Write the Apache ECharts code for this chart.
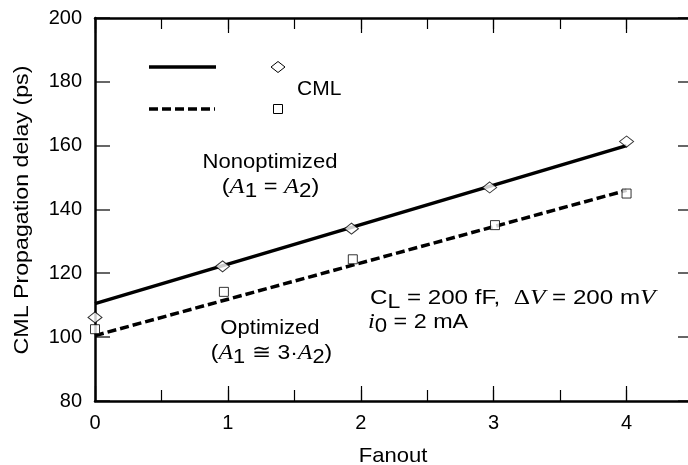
<!DOCTYPE html>
<html>
<head>
<meta charset="utf-8">
<script src="https://cdn.jsdelivr.net/npm/echarts@6/dist/echarts.min.js"></script>
<style>
  html, body { margin: 0; padding: 0; background: #fff; }
  #chart { width: 688px; height: 465px; }
</style>
</head>
<body>
<div id="chart"></div>
<script>
// ---- data ----
const xTicks = [0, 1, 2, 3, 4];
const yTicks = [80, 100, 120, 140, 160, 180, 200];
const nonoptX = [0, 0.96, 1.93, 2.97, 4.0];
const nonoptY = [106.2, 122.2, 134.0, 146.9, 161.3];
const optX = [0, 0.97, 1.94, 3.01, 4.0];
const optY = [102.5, 114.2, 124.4, 135.1, 145.0];
const fitX = [0, 4];
const nonoptFitY = [110.5, 160.0];
const optFitY = [100.5, 146.0];
const xName = 'Fanout';
const yName = 'CML Propagation delay (ps)';
const legendLabel = 'CML';

const SANS = '"Liberation Sans", Arial, Helvetica, sans-serif';
const SERIF = '"Liberation Serif", "DejaVu Serif", serif';
const X_MIN = 0, X_MAX = 4.5;

const pairs = (xs, ys) => xs.map((x, i) => [x, ys[i]]);

const chart = echarts.init(document.getElementById('chart'), null, { renderer: 'canvas' });

const axisLine = { show: true, onZero: false, lineStyle: { color: '#000', width: 2.5 } };
const noLine = { show: false, onZero: false };
const baseX = { type: 'value', min: X_MIN, max: X_MAX, splitLine: { show: false } };
const baseY = { type: 'value', min: 80, max: 200, interval: 20, splitLine: { show: false } };
const tickMajor = () => ({ show: true, inside: true, length: 15, lineStyle: { color: '#000', width: 1.2 } });
const tickMinor = () => ({ show: true, inside: true, length: 11, lineStyle: { color: '#000', width: 1.2 } });

const richBase = {
  s: { fontFamily: SANS, fontSize: 21, lineHeight: 28, verticalAlign: 'middle', fill: '#000' },
  a: { fontFamily: SERIF, fontStyle: 'italic', fontSize: 22, lineHeight: 28, verticalAlign: 'middle', fill: '#000' },
  g: { fontFamily: SERIF, fontSize: 22, lineHeight: 28, verticalAlign: 'middle', fill: '#000' },
  b: { fontFamily: SANS, fontSize: 20, lineHeight: 18, verticalAlign: 'bottom', fill: '#000' }
};

function richText(x, y, text, align, sx) {
  return {
    type: 'text', x: x, y: y, z: 100, scaleX: sx || 1,
    style: { text: text, rich: richBase, align: align, verticalAlign: 'top', fill: '#000' }
  };
}

const graphics = [
  // legend samples
  { type: 'line', z: 100, shape: { x1: 149, y1: 67, x2: 216, y2: 67 }, style: { stroke: '#000', lineWidth: 3.5 } },
  { type: 'line', z: 100, shape: { x1: 149, y1: 109, x2: 215, y2: 109 }, style: { stroke: '#000', lineWidth: 3.5, lineDash: [9, 4] } },
  { type: 'polygon', z: 100, shape: { points: [[278, 61.5], [285, 67], [278, 72.5], [271, 67]] }, style: { fill: '#fff', stroke: '#000', lineWidth: 1 } },
  { type: 'rect', z: 100, shape: { x: 273.5, y: 104.5, width: 9, height: 9 }, style: { fill: '#fff', stroke: '#000', lineWidth: 1 } },
  { type: 'text', z: 100, x: 297, y: 89, style: { text: legendLabel, fontFamily: SANS, fontSize: 21, fill: '#000', align: 'left', verticalAlign: 'middle' } },
  // annotations
  { type: 'text', z: 100, x: 270, y: 162, scaleX: 1.05, style: { text: 'Nonoptimized', fontFamily: SANS, fontSize: 21, fill: '#000', align: 'center', verticalAlign: 'middle' } },
  richText(270.5, 173, '{s|(}{a|A}{b|1}{s| = }{a|A}{b|2}{s|)}', 'center', 1.12),
  { type: 'text', z: 100, x: 270, y: 328, scaleX: 1.05, style: { text: 'Optimized', fontFamily: SANS, fontSize: 21, fill: '#000', align: 'center', verticalAlign: 'middle' } },
  richText(271.5, 339, '{s|(}{a|A}{b|1}{s| \u2245 3\u00B7}{a|A}{b|2}{s|)}', 'center', 1.09),
  richText(370, 284, '{s|C}{b|L}{s| = 200 fF,  }{g|\u0394}{a|V}{s| = 200 m}{a|V}', 'left', 1.15),
  richText(368, 308, '{a|i}{b|0}{s| = 2 mA}', 'left', 1.11),
  // axis names
  { type: 'text', z: 100, x: 393, y: 456, scaleX: 1.05, style: { text: xName, fontFamily: SANS, fontSize: 21, fill: '#000', align: 'center', verticalAlign: 'middle' } },
  { type: 'text', z: 100, x: 22, y: 210, rotation: Math.PI / 2, scaleX: 1.16, style: { text: yName, fontFamily: SANS, fontSize: 20, fill: '#000', align: 'center', verticalAlign: 'middle' } }
];

const option = {
  animation: false,
  backgroundColor: '#fff',
  grid: { left: 95, top: 18, right: -5, bottom: 64, containLabel: false, outerBoundsMode: 'none' },
  xAxis: [
    Object.assign({}, baseX, {
      position: 'bottom', interval: 1, axisLine: axisLine, axisTick: tickMajor(),
      axisLabel: {
        show: true, margin: 12, color: '#000', fontFamily: SANS, fontSize: 20,
        formatter: v => (xTicks.indexOf(v) >= 0 ? String(v) : '')
      }
    }),
    Object.assign({}, baseX, {
      position: 'bottom', interval: 0.5, axisLine: noLine, axisTick: tickMinor(), axisLabel: { show: false }
    }),
    Object.assign({}, baseX, {
      position: 'top', interval: 1, axisLine: axisLine, axisTick: tickMajor(), axisLabel: { show: false }
    }),
    Object.assign({}, baseX, {
      position: 'top', interval: 0.5, axisLine: noLine, axisTick: tickMinor(), axisLabel: { show: false }
    })
  ],
  yAxis: [
    Object.assign({}, baseY, {
      position: 'left', axisLine: axisLine, axisTick: { show: false },
      axisLabel: {
        show: true, margin: 13, color: '#000', fontFamily: SANS, fontSize: 20,
        formatter: v => (yTicks.indexOf(v) >= 0 ? String(v) : '')
      }
    }),
    Object.assign({}, baseY, {
      position: 'right', axisLine: axisLine, axisTick: { show: false }, axisLabel: { show: false }
    })
  ],
  series: [
    {
      type: 'line', xAxisIndex: 0, yAxisIndex: 0, data: pairs(fitX, nonoptFitY),
      symbol: 'none', z: 2, lineStyle: { color: '#000', width: 3.5, type: 'solid' }
    },
    {
      type: 'line', xAxisIndex: 0, yAxisIndex: 0, data: pairs(fitX, optFitY),
      symbol: 'none', z: 2, lineStyle: { color: '#000', width: 3.5, type: [9, 4] }
    },
    {
      type: 'scatter', xAxisIndex: 0, yAxisIndex: 0, data: pairs(nonoptX, nonoptY),
      symbol: 'diamond', symbolSize: [14, 11], z: 5, clip: false,
      itemStyle: { color: '#fff', borderColor: '#000', borderWidth: 1 }
    },
    {
      type: 'scatter', xAxisIndex: 0, yAxisIndex: 0, data: pairs(optX, optY),
      symbol: 'rect', symbolSize: [9, 9], z: 5, clip: false,
      itemStyle: { color: '#fff', borderColor: '#000', borderWidth: 1 }
    }
  ],
  graphic: graphics
};

chart.setOption(option);

// inward y-axis ticks on both frame sides, positioned through the chart's own y scale
const tickMarks = [];
yTicks.forEach(function (v) {
  let pL = null, pR = null;
  try {
    pL = chart.convertToPixel({ xAxisIndex: 0, yAxisIndex: 0 }, [X_MIN, v]);
    pR = chart.convertToPixel({ xAxisIndex: 0, yAxisIndex: 0 }, [X_MAX, v]);
  } catch (e) { pL = null; }
  if (!pL || !isFinite(pL[1])) {
    try {
      pL = chart.convertToPixel({ gridIndex: 0 }, [X_MIN, v]);
      pR = chart.convertToPixel({ gridIndex: 0 }, [X_MAX, v]);
    } catch (e) { pL = null; }
  }
  if (pL && isFinite(pL[1])) {
    const y = Math.round(pL[1]);
    tickMarks.push({ type: 'rect', z: 101, shape: { x: pL[0], y: y - 0.6, width: 15, height: 1.2 }, style: { fill: '#000' } });
    tickMarks.push({ type: 'rect', z: 101, shape: { x: pR[0] - 15, y: y - 0.6, width: 15, height: 1.2 }, style: { fill: '#000' } });
  }
});
chart.setOption({ graphic: graphics.concat(tickMarks) });
</script>
</body>
</html>
